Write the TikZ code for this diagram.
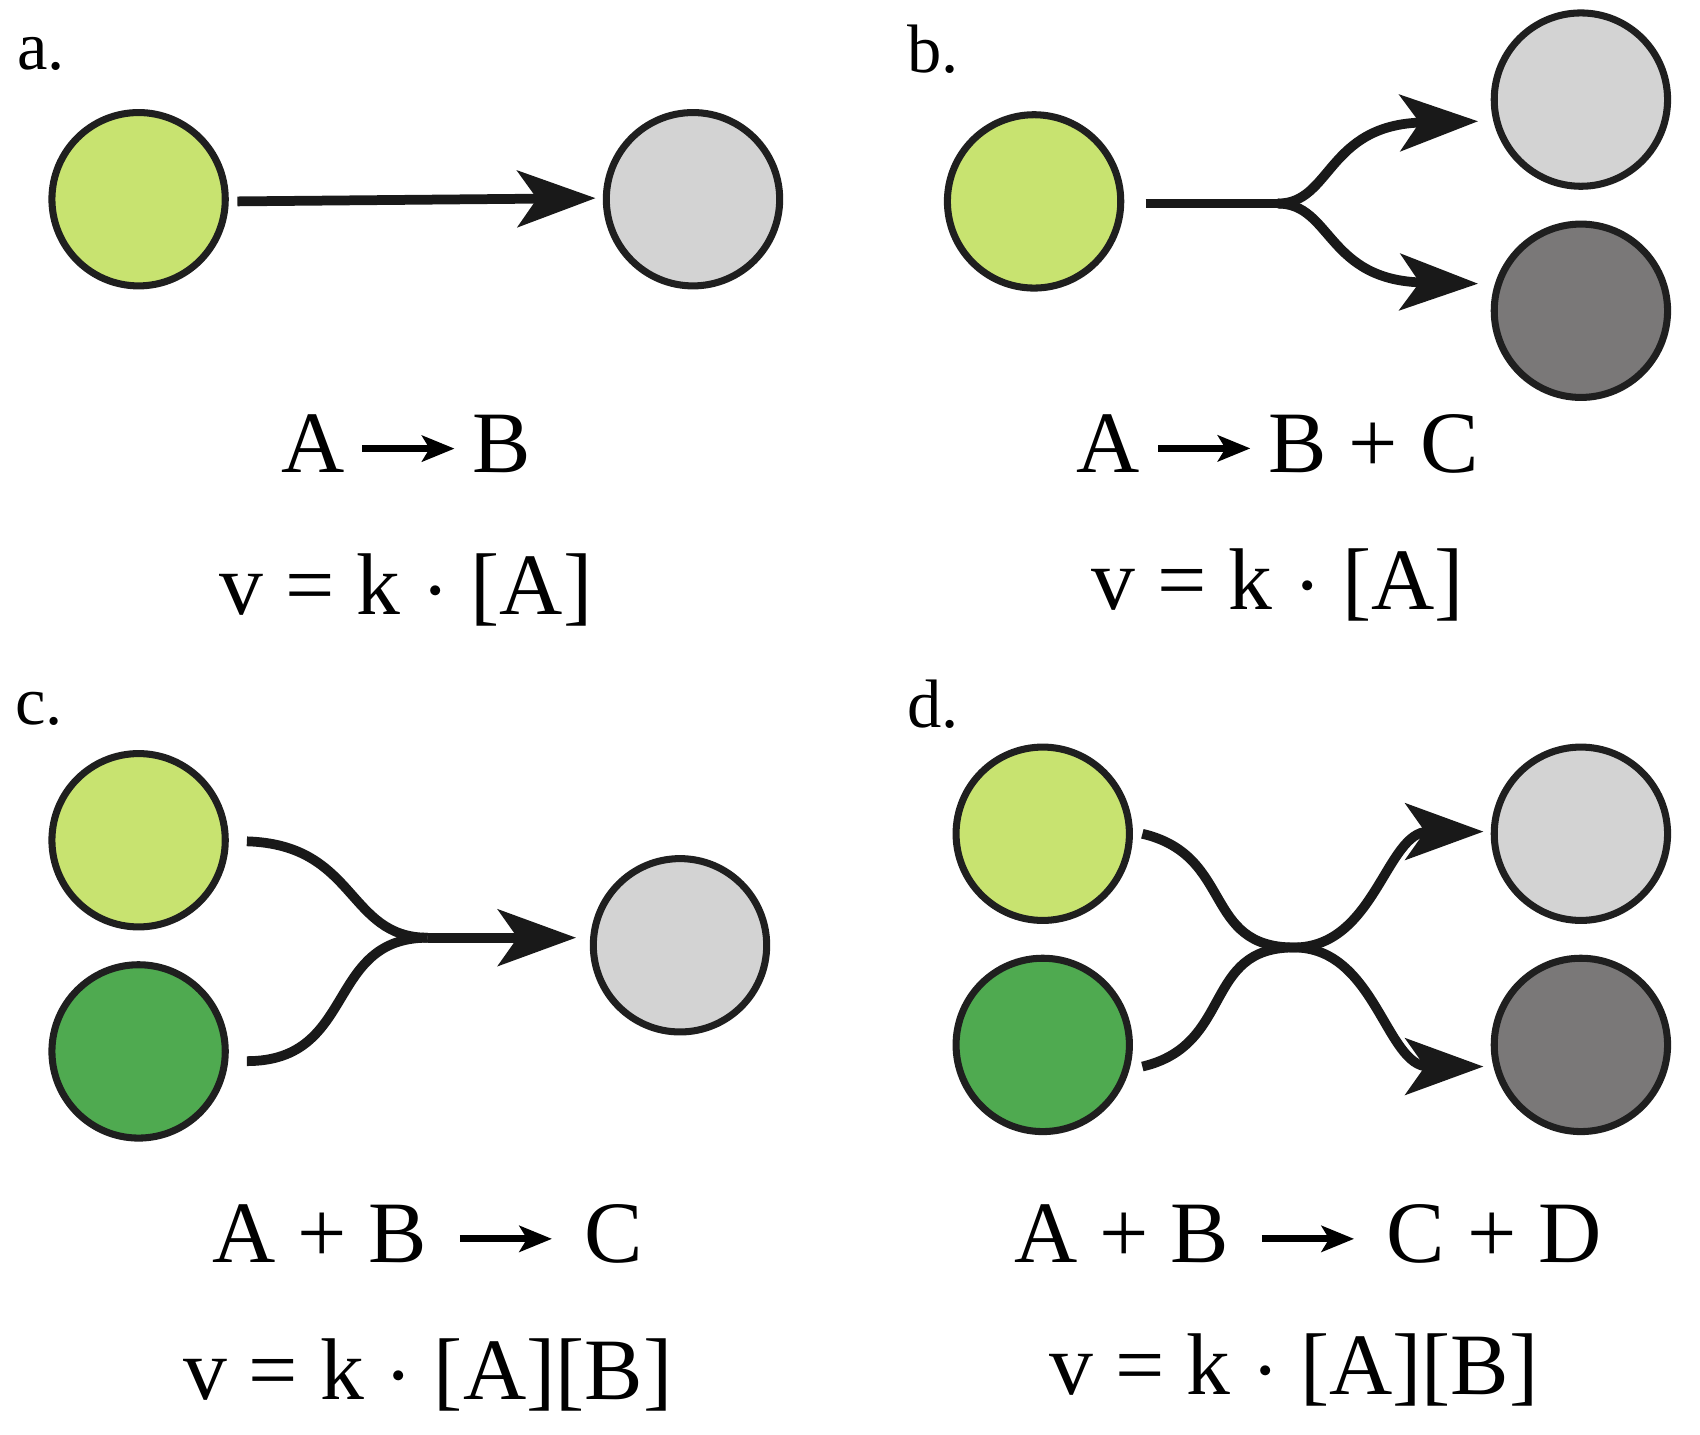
\documentclass[tikz,border=0pt]{standalone}
\usepackage{fontspec}
\setmainfont{Liberation Serif}
\usetikzlibrary{arrows.meta}
\begin{document}
\begin{tikzpicture}[x=0.01cm,y=-0.01cm,
  ball/.style={circle,draw=black!88,line width=0.065cm,minimum size=1.6cm,inner sep=0},
  lg/.style={ball,fill={rgb,255:red,200;green,227;blue,112}},
  dg/.style={ball,fill={rgb,255:red,79;green,170;blue,80}},
  gr/.style={ball,fill={rgb,255:red,211;green,211;blue,211}},
  dk/.style={ball,fill={rgb,255:red,122;green,120;blue,120}},
  con/.style={line width=0.09cm,draw=black!90,-{Stealth[length=0.72cm,width=0.52cm,inset=0.18cm]}},
  lin/.style={line width=0.09cm,draw=black!90},
  lab/.style={font=\fontsize{18}{20}\selectfont},
  eq/.style={font=\fontsize{23}{26}\selectfont},
  ]
\newcommand{\rarr}{\tikz[baseline=-0.6ex,x=1cm,y=1cm]\draw[line width=0.065cm,-{Stealth[length=0.3cm,width=0.24cm,inset=0.07cm]}] (0,0)--(0.85,0);}
\useasboundingbox (0,0) rectangle (1570,1325);
% a
\node[lab] (la) at (38,50) {a.};
\node[lg] (a1) at (128,184) {};
\node[gr] (a2) at (640,184) {};
\draw[con] (a1.east)++(8,2) coordinate (a1s) -- (550,183) coordinate (a2e);
\node[eq] (ta1) at (375,410) {A\,\rarr\,B};
\node[eq] (ta2) at (375,545) {v = k $\cdot$ [A]};
% b
\node[lab] (lb) at (862,45) {b.};
\node[lg] (b1) at (955,186) {};
\node[gr] (b2) at (1460,92) {};
\node[dk] (b3) at (1460,287) {};
\coordinate (bs) at (1058,188);
\coordinate (bm) at (1180,188);
\coordinate (bu) at (1365,112);
\coordinate (bd) at (1365,262);
\draw[lin] (bs) -- (bm);
\draw[con] (bm) .. controls (1230,188) and (1225,115) .. (bu);
\draw[con] (bm) .. controls (1230,188) and (1225,259) .. (bd);
\node[eq] (tb1) at (1180,410) {A\,\rarr\,B + C};
\node[eq] (tb2) at (1180,540) {v = k $\cdot$ [A]};
% c
\node[lab] (lc) at (36,655) {c.};
\node[lg] (c1) at (128,776) {};
\node[dg] (c2) at (128,971) {};
\node[gr] (c3) at (628,873) {};
\coordinate (cs1) at (228,777);
\coordinate (cs2) at (228,980);
\coordinate (cm) at (395,866);
\coordinate (ce) at (532,866);
\draw[lin] (cs1) .. controls (330,780) and (320,866) .. (cm);
\draw[lin] (cs2) .. controls (330,980) and (300,866) .. (cm);
\draw[con] (cm) -- (ce);
\node[eq] (tc1) at (395,1140) {A + B\,\,\rarr\,\,C};
\node[eq] (tc2) at (395,1270) {v = k $\cdot$ [A][B]};
% d
\node[lab] (ld) at (862,650) {d.};
\node[lg] (d1) at (963,770) {};
\node[dg] (d2) at (963,965) {};
\node[gr] (d3) at (1460,770) {};
\node[dk] (d4) at (1460,965) {};
\coordinate (ds1) at (1055,770);
\coordinate (ds2) at (1055,985);
\coordinate (de1) at (1370,768);
\coordinate (de2) at (1370,985);
\draw[con] (ds1) .. controls (1140,790) and (1110,875) .. (1195,875) .. controls (1270,875) and (1280,985) .. (de2);
\draw[con] (ds2) .. controls (1140,965) and (1110,875) .. (1195,875) .. controls (1270,875) and (1280,768) .. (de1);
\node[eq] (td1) at (1208,1140) {A + B\,\,\rarr\,\,C + D};
\node[eq] (td2) at (1195,1265) {v = k $\cdot$ [A][B]};
\end{tikzpicture}
\end{document}
